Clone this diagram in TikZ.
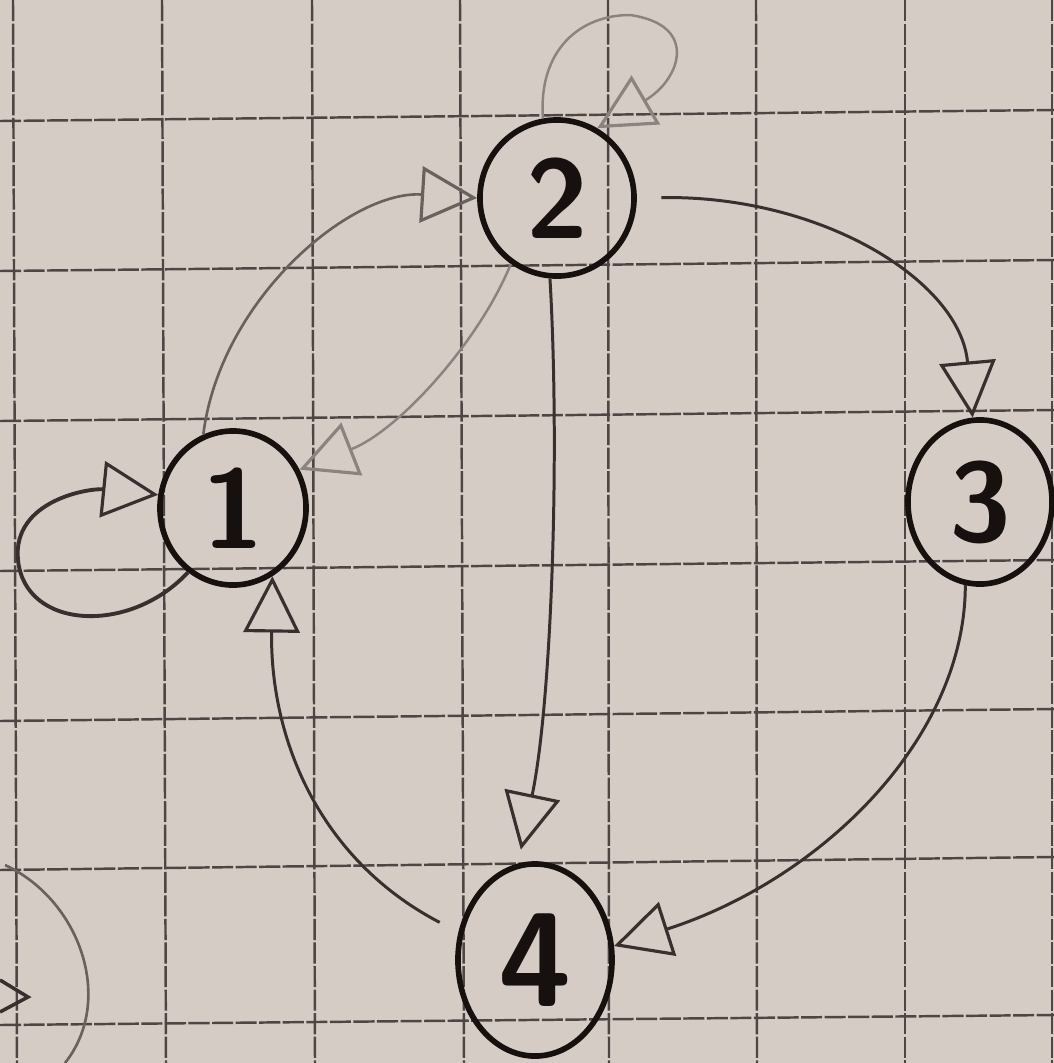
\documentclass[tikz,border=0pt]{standalone}
\usetikzlibrary{shapes.geometric,arrows.meta}
\definecolor{paper}{RGB}{214,204,198}
\definecolor{ink}{RGB}{55,48,46}
\definecolor{inkm}{RGB}{105,97,94}
\definecolor{inkl}{RGB}{140,131,127}
\definecolor{gridc}{RGB}{78,70,68}
\definecolor{nodeink}{RGB}{22,16,14}
\begin{document}
\begin{tikzpicture}[x=0.01cm,y=-0.01cm,
  state/.style={ellipse,draw=nodeink,line width=1.6pt,inner sep=0pt,text=nodeink,font=\fontsize{32}{34}\selectfont\sffamily\bfseries},
  edge/.style={draw=ink,line width=0.85pt},
  edgem/.style={draw=inkm,line width=0.75pt},
  faint/.style={draw=inkl,line width=0.7pt},
  tipa/.style={-{Triangle[open,length=16pt,width=16pt,line width=0.9pt]}},
  gridline/.style={draw=gridc,line width=0.7pt,dash pattern=on 6pt off 0.7pt}]
\fill[paper] (0,0) rectangle (1054,1063);
\useasboundingbox (0,0) rectangle (1054,1063);
% grid
\foreach \a/\b in {13/17,162/166,312/315,460/464,608/609,756/757,905/905,1052/1052}
  \draw[gridline] (\a,0) -- (\b,1063);
\foreach \a/\b in {121/110,271/260,421/410,571/560,721/709,870/857,1025/1015}
  \draw[gridline] (0,\a) -- (1054,\b);
% nodes
\node[state,minimum width=1.46cm,minimum height=1.54cm] (n1) at (233,508) {1};
\node[state,minimum width=1.54cm,minimum height=1.56cm] (n2) at (557,198) {2};
\node[state,minimum width=1.44cm,minimum height=1.64cm] (n3) at (980,502) {3};
\node[state,minimum width=1.54cm,minimum height=1.92cm,font=\fontsize{38}{40}\selectfont\sffamily\bfseries] (n4) at (535,960) {4};
% edges
\draw[edge,line width=1.1pt,tipa] (n1.235) .. controls (130,635) and (25,630) .. (18,560)
  .. controls (12,500) and (90,488) .. (n1.170);
\draw[faint,tipa] (n2.100) .. controls (538,50) and (580,15) .. (630,15)
  .. controls (700,25) and (680,80) .. (n2.60);
\draw[edgem,tipa] (n1.112) .. controls (220,300) and (350,190) .. (n2.west);
\draw[faint,tipa] (n2.235) .. controls (480,340) and (400,430) .. (n1.30);
\draw[edge,tipa,shorten <=7pt] (n2.east) .. controls (820,195) and (960,280) .. (n3.95);
\draw[edge,tipa,shorten >=4pt] (n2.265) .. controls (560,450) and (552,700) .. (n4.100);
\draw[edge,tipa] (n3.260) .. controls (965,740) and (820,880) .. (n4.10);
\draw[edge,tipa,shorten <=6pt] (n4.160) .. controls (320,860) and (270,740) .. (n1.300);
% fragment of another drawing at the lower left edge
\draw[edgem] (5,865) .. controls (80,900) and (115,1000) .. (65,1063);
\draw[edge,line width=1pt] (0,980) -- (28,997) -- (0,1012);
\end{tikzpicture}
\end{document}
